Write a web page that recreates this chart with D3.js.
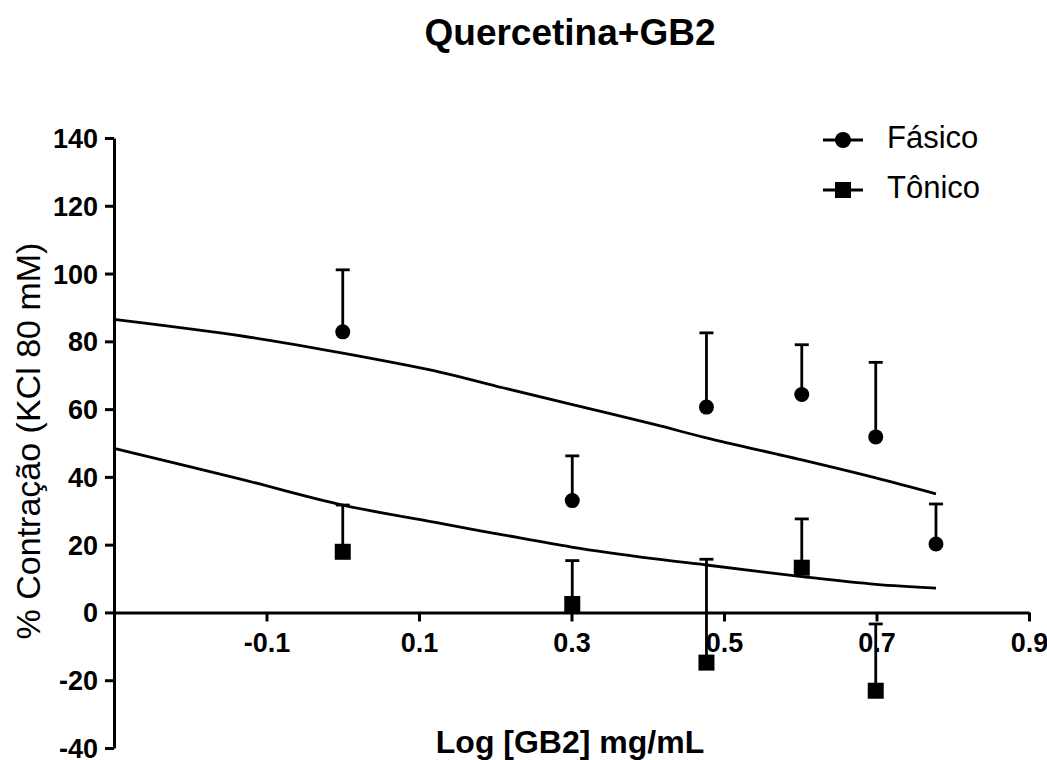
<!DOCTYPE html>
<html>
<head>
<meta charset="utf-8">
<script src="https://cdn.jsdelivr.net/npm/d3@7"></script>
<style>
    body { margin: 0; background: #fff; }
    text { font-family: "Liberation Sans", Arial, sans-serif; fill: #000; }
</style>
</head>
<body>
<script>
// log [GB2] of each concentration
const doseX = [0, 0.301, 0.477, 0.602, 0.699, 0.778];
const fasicoMean = [82.8, 33.0, 60.6, 64.3, 51.8, 20.2];
const fasicoSem = [18.3, 13.2, 21.9, 14.7, 22.0, 11.8];
const tonicoMean = [17.9, 2.5, -14.8, 13.2, -23.1];
const tonicoSem = [13.8, 12.8, 30.5, 14.4, 19.7];

// fitted curves
const fitX = [-0.3, -0.13, 0.0, 0.13, 0.21, 0.3, 0.41, 0.477, 0.602, 0.699, 0.778];
const fasicoFit = [86.5, 81.5, 76.5, 70.8, 66.3, 61.4, 55.4, 51.5, 45.0, 39.7, 35.0];
const tonicoFit = [48.4, 39.1, 31.7, 26.2, 22.9, 19.3, 15.8, 14.0, 10.6, 8.3, 7.2];

const xTicks = [-0.1, 0.1, 0.3, 0.5, 0.7, 0.9];
const yTicks = [-40, -20, 0, 20, 40, 60, 80, 100, 120, 140];

const width = 1047;
const height = 760;

const svg = d3.select("body")
    .append("svg")
    .attr("width", width)
    .attr("height", height);

const xScale = d3.scaleLinear()
    .domain([-0.3, 0.9])
    .range([114, 1029]);

const yScale = d3.scaleLinear()
    .domain([-40, 140])
    .range([748, 138]);

// hyphen instead of unicode minus, like the original
const fmtY = (d) => String(d);
const fmtX = (d) => d3.format(".1f")(d).replace("\u2212", "-");

// title
svg.append("text")
    .attr("x", 570)
    .attr("y", 45)
    .attr("text-anchor", "middle")
    .style("font-size", "37px")
    .style("font-weight", "bold")
    .text("Quercetina+GB2");

// axes
const yAxis = d3.axisLeft(yScale)
    .tickValues(yTicks)
    .tickFormat(fmtY)
    .tickSize(9)
    .tickPadding(7)
    .tickSizeOuter(0);
const gy = svg.append("g")
    .attr("transform", "translate(" + xScale(-0.3) + ",0)")
    .call(yAxis);

const xAxis = d3.axisBottom(xScale)
    .tickValues(xTicks)
    .tickFormat(fmtX)
    .tickSize(9)
    .tickPadding(11)
    .tickSizeOuter(0);
const gx = svg.append("g")
    .attr("transform", "translate(0," + yScale(0) + ")")
    .call(xAxis);

[gx, gy].forEach(function(g) {
    g.select(".domain").attr("stroke", "#000").attr("stroke-width", 3);
    g.selectAll(".tick line").attr("stroke", "#000").attr("stroke-width", 3);
    g.selectAll(".tick text")
        .style("font-family", "'Liberation Sans', Arial, sans-serif")
        .style("font-size", "27px")
        .style("font-weight", "bold")
        .attr("fill", "#000");
});
gy.selectAll(".tick text").attr("dy", "0.35em");

// axis labels
svg.append("text")
    .attr("x", 570)
    .attr("y", 753)
    .attr("text-anchor", "middle")
    .style("font-size", "32px")
    .style("font-weight", "bold")
    .text("Log [GB2] mg/mL");

svg.append("text")
    .attr("transform", "translate(40,441) rotate(-90)")
    .attr("text-anchor", "middle")
    .style("font-size", "34px")
    .text("% Contração (KCl 80 mM)");

// fitted curves
const line = d3.line()
    .x((d) => xScale(d[0]))
    .y((d) => yScale(d[1]))
    .curve(d3.curveCatmullRom.alpha(0.5));

[fasicoFit, tonicoFit].forEach(function(fit) {
    svg.append("path")
        .datum(fitX.map((x, i) => [x, fit[i]]))
        .attr("d", line)
        .attr("fill", "none")
        .attr("stroke", "#000")
        .attr("stroke-width", 2.8);
});

// error bars (upper only)
const drawErrors = function(means, sems) {
    const g = svg.append("g").attr("stroke", "#000").attr("stroke-width", 2.8);
    means.forEach(function(m, i) {
        const x = xScale(doseX[i]);
        g.append("line")
            .attr("x1", x).attr("x2", x)
            .attr("y1", yScale(m)).attr("y2", yScale(m + sems[i]));
        g.append("line")
            .attr("x1", x - 7).attr("x2", x + 7)
            .attr("y1", yScale(m + sems[i])).attr("y2", yScale(m + sems[i]));
    });
};
drawErrors(fasicoMean, fasicoSem);
drawErrors(tonicoMean, tonicoSem);

svg.selectAll("circle.fasico")
    .data(fasicoMean)
    .enter()
    .append("circle")
    .attr("class", "fasico")
    .attr("cx", (d, i) => xScale(doseX[i]))
    .attr("cy", (d) => yScale(d))
    .attr("r", 7.5)
    .attr("fill", "#000");

svg.selectAll("rect.tonico")
    .data(tonicoMean)
    .enter()
    .append("rect")
    .attr("class", "tonico")
    .attr("x", (d, i) => xScale(doseX[i]) - 8)
    .attr("y", (d) => yScale(d) - 8)
    .attr("width", 16)
    .attr("height", 16)
    .attr("fill", "#000");

// legend
const legend = svg.append("g").attr("transform", "translate(823,0)");
const items = ["Fásico", "Tônico"];
items.forEach(function(name, i) {
    const cy = 140 + i * 50;
    legend.append("line")
        .attr("x1", 0).attr("x2", 40)
        .attr("y1", cy).attr("y2", cy)
        .attr("stroke", "#000").attr("stroke-width", 3);
    if (i === 0) {
        legend.append("circle").attr("cx", 20).attr("cy", cy).attr("r", 8).attr("fill", "#000");
    } else {
        legend.append("rect").attr("x", 12).attr("y", cy - 8).attr("width", 16).attr("height", 16).attr("fill", "#000");
    }
    legend.append("text")
        .attr("x", 64)
        .attr("y", cy + 8)
        .style("font-size", "31px")
        .text(name);
});
</script>
</body>
</html>
